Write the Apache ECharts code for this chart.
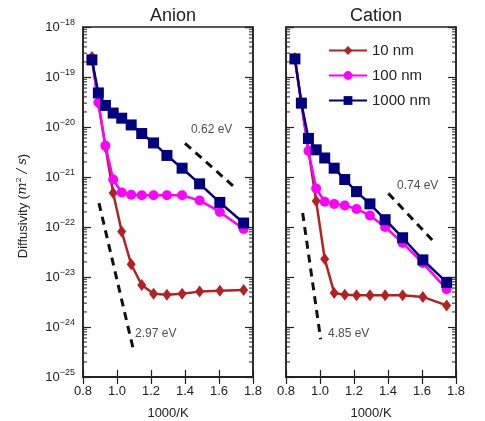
<!DOCTYPE html>
<html><head><meta charset="utf-8">
<script src="https://cdn.jsdelivr.net/npm/echarts@6/dist/echarts.min.js"></script>
<style>html,body{margin:0;padding:0;background:#fff}#c{width:485px;height:421px}</style>
</head><body><div id="c"></div>
<script>
// 1000/K positions of the measured points
const invT = [0.8525, 0.8905, 0.932, 0.9775, 1.0277, 1.0834, 1.1455, 1.215, 1.2937, 1.383, 1.486, 1.605, 1.745];
const seriesNames = ['10 nm', '100 nm', '1000 nm'];
// Anion panel diffusivities (m^2/s)
const anion10   = [2.5e-19, 3.0e-20, 4.0e-21, 4.8e-22, 8.1e-23, 1.8e-23, 6.9e-24, 4.6e-24, 4.4e-24, 4.6e-24, 5.1e-24, 5.3e-24, 5.5e-24];
const anion100  = [2.2e-19, 3.1e-20, 4.2e-21, 8.9e-22, 4.9e-22, 4.4e-22, 4.3e-22, 4.3e-22, 4.3e-22, 4.3e-22, 3.4e-22, 2.0e-22, 9.1e-23];
const anion1000 = [2.2e-19, 4.8e-20, 2.7e-20, 1.9e-20, 1.5e-20, 1.1e-20, 7.4e-21, 4.8e-21, 2.7e-21, 1.5e-21, 7.3e-22, 3.1e-22, 1.2e-22];
// Cation panel diffusivities (m^2/s)
const cation10   = [2.4e-19, 3.0e-20, 3.4e-21, 3.3e-22, 2.3e-23, 4.8e-24, 4.4e-24, 4.3e-24, 4.3e-24, 4.3e-24, 4.3e-24, 4.0e-24, 2.7e-24];
const cation100  = [2.3e-19, 3.0e-20, 3.3e-21, 5.9e-22, 3.2e-22, 2.9e-22, 2.7e-22, 2.3e-22, 1.7e-22, 1.0e-22, 4.8e-23, 1.9e-23, 5.7e-24];
const cation1000 = [2.3e-19, 3.0e-20, 5.9e-21, 3.5e-21, 2.4e-21, 1.5e-21, 8.9e-22, 5.1e-22, 2.9e-22, 1.4e-22, 6.1e-23, 2.2e-23, 7.8e-24];
// Arrhenius guide lines: [x, y] endpoints and their labels
const guideAnionA = [[0.894, 3.0e-22], [1.094, 3.8e-25]];
const guideAnionB = [[1.400, 4.7e-21], [1.700, 5.9e-22]];
const guideCationA = [[0.898, 1.9e-22], [1.004, 5.7e-25]];
const guideCationB = [[1.402, 4.7e-22], [1.669, 5.1e-23]];
const guideLabelsAnion = [[1.106, 7.2e-25, '2.97 eV'], [1.435, 8.7e-21, '0.62 eV']];
const guideLabelsCation = [[1.047, 7.2e-25, '4.85 eV'], [1.453, 6.6e-22, '0.74 eV']];
const xTicks = { min: 0.8, max: 1.8, interval: 0.2 };
// a hair below 1e-25 so that the 10^-25 tick is kept despite float rounding of log10
const yRange = { min: 0.99999e-25, max: 1e-18 };

const colors = ['#b22222', '#ff00ff', '#000080'];
const symbols = ['diamond', 'circle', 'rect'];
const symSizes = [[9, 12], 10, 11];
const FONT = 'Liberation Sans, Arial, sans-serif';
const INK = '#222';

const minorVals = [];
for (let e = -25; e < -18; e++) for (let k = 2; k <= 9; k++) minorVals.push([1.0, k * Math.pow(10, e)]);

function pts(ys) { return invT.map((x, i) => [x, ys[i]]); }

const grids = [
  { left: 83, top: 27, width: 170, height: 350, show: true, borderColor: INK, borderWidth: 1.5, containLabel: false, outerBoundsMode: 'none' },
  { left: 286, top: 27, width: 170, height: 350, show: true, borderColor: INK, borderWidth: 1.5, containLabel: false, outerBoundsMode: 'none' }
];

function xAxis(gi, pos, labels) {
  return {
    type: 'value', gridIndex: gi, position: pos, min: xTicks.min, max: xTicks.max, interval: xTicks.interval,
    axisLine: { show: true, lineStyle: { color: INK, width: 1.5 } },
    axisTick: { show: true, inside: true, length: 7, lineStyle: { color: INK, width: 1.2 } },
    splitLine: { show: false },
    axisLabel: { show: labels, color: INK, fontSize: 13, fontFamily: FONT, margin: 8, hideOverlap: false,
      showMinLabel: true, showMaxLabel: true, formatter: v => v.toFixed(1) },
    name: labels ? '1000/K' : '', nameLocation: 'middle', nameGap: 30,
    nameTextStyle: { color: INK, fontSize: 13, fontFamily: FONT }
  };
}
function yAxis(gi, pos, labels) {
  return {
    type: 'log', logBase: 10, gridIndex: gi, position: pos, min: yRange.min, max: yRange.max,
    axisLine: { show: true, lineStyle: { color: INK, width: 1.5 } },
    axisTick: { show: true, inside: true, length: 8, lineStyle: { color: INK, width: 1.2 } },
    splitLine: { show: false }, minorTick: { show: false },
    axisLabel: { show: labels, color: INK, fontSize: 13, fontFamily: FONT, margin: 8, hideOverlap: false,
      showMinLabel: true, showMaxLabel: true,
      formatter: v => '10{s|\u2212' + Math.round(-Math.log10(v)) + '}',
      rich: { s: { fontSize: 9, fontFamily: FONT, color: INK, padding: [0, 0, 9, 0] } } }
  };
}

function dataSeries(name, idx, ys, axisIdx) {
  return {
    type: 'line', name, xAxisIndex: axisIdx, yAxisIndex: axisIdx, data: pts(ys),
    color: colors[idx], symbol: symbols[idx], symbolSize: symSizes[idx], showAllSymbol: true,
    lineStyle: { width: 2.5, color: colors[idx] }, itemStyle: { color: colors[idx] },
    z: 5 + idx, animation: false
  };
}
function guide(d, axisIdx) {
  return { type: 'line', xAxisIndex: axisIdx, yAxisIndex: axisIdx, data: d, symbol: 'none',
    lineStyle: { color: '#111', width: 3, type: [8, 6] }, z: 3, animation: false, silent: true };
}
function guideLabels(d, axisIdx) {
  return { type: 'scatter', xAxisIndex: axisIdx, yAxisIndex: axisIdx, symbolSize: 0, silent: true,
    data: d.map(r => ({ value: [r[0], r[1]], label: { show: true, formatter: r[2] } })),
    label: { position: 'right', distance: 0, color: INK, fontSize: 12, fontFamily: FONT }, z: 4, animation: false };
}
function minorTicks(axisIdx) {
  return { type: 'custom', xAxisIndex: axisIdx, yAxisIndex: axisIdx, data: minorVals, silent: true, animation: false, z: 10,
    renderItem(params, api) {
      const cs = params.coordSys;
      const y = api.coord([api.value(0), api.value(1)])[1];
      return { type: 'group', children: [
        { type: 'line', shape: { x1: cs.x, y1: y, x2: cs.x + 4, y2: y }, style: { stroke: INK, lineWidth: 1 } },
        { type: 'line', shape: { x1: cs.x + cs.width - 4, y1: y, x2: cs.x + cs.width, y2: y }, style: { stroke: INK, lineWidth: 1 } }
      ] };
    } };
}

const option = {
  animation: false,
  textStyle: { fontFamily: FONT },
  title: [
    { text: 'Anion', left: 168, top: 2, textAlign: 'center', textStyle: { fontSize: 18, fontWeight: 'normal', color: INK, fontFamily: FONT } },
    { text: 'Cation', left: 371, top: 2, textAlign: 'center', textStyle: { fontSize: 18, fontWeight: 'normal', color: INK, fontFamily: FONT } }
  ],
  legend: {
    data: seriesNames, orient: 'vertical', left: 323, top: 38, itemWidth: 38, itemHeight: 11, itemGap: 10,
    textStyle: { fontSize: 15, color: INK, fontFamily: FONT }
  },
  graphic: [{
    type: 'text', x: 23, y: 206, rotation: Math.PI / 2, z: 20,
    style: {
      text: 'Diffusivity ({i|m}{sp|2}{i| / s})', fill: INK, fontSize: 13, fontFamily: FONT,
      align: 'center', verticalAlign: 'middle',
      rich: { i: { fontStyle: 'italic', fontSize: 13, fontFamily: 'DejaVu Serif, serif', fill: INK },
              sp: { fontSize: 8, fontFamily: 'DejaVu Serif, serif', fill: INK, padding: [0, 0, 8, 0] } }
    }
  }],
  grid: grids,
  xAxis: [xAxis(0, 'bottom', true), xAxis(0, 'top', false), xAxis(1, 'bottom', true), xAxis(1, 'top', false)],
  yAxis: [yAxis(0, 'left', true), yAxis(0, 'right', false), yAxis(1, 'left', false), yAxis(1, 'right', false)],
  series: [
    guide(guideAnionA, 0), guide(guideAnionB, 0), guideLabels(guideLabelsAnion, 0),
    dataSeries(seriesNames[0], 0, anion10, 0), dataSeries(seriesNames[1], 1, anion100, 0), dataSeries(seriesNames[2], 2, anion1000, 0),
    guide(guideCationA, 2), guide(guideCationB, 2), guideLabels(guideLabelsCation, 2),
    dataSeries(seriesNames[0], 0, cation10, 2), dataSeries(seriesNames[1], 1, cation100, 2), dataSeries(seriesNames[2], 2, cation1000, 2),
    minorTicks(0), minorTicks(2)
  ]
};
// series use axes 0 (left panel) and 2 (right panel); axes 1 and 3 only draw the top / right ticks
const chart = echarts.init(document.getElementById('c'), null, { renderer: 'canvas' });
chart.setOption(option);
</script></body></html>
